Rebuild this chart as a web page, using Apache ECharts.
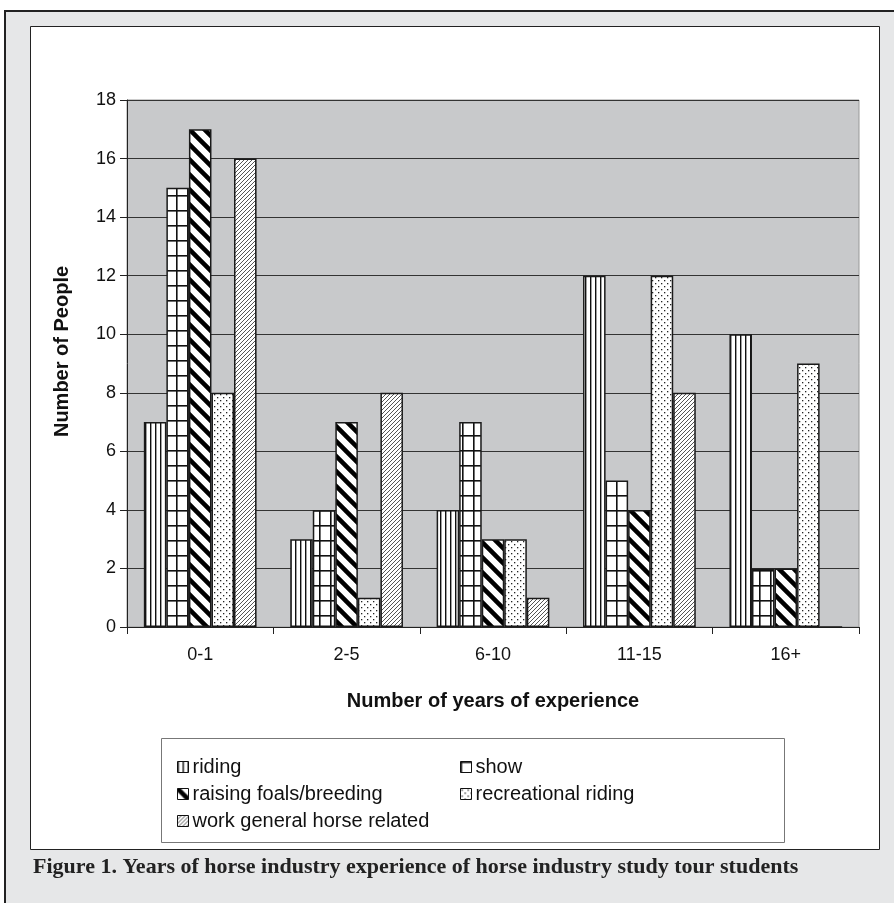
<!DOCTYPE html>
<html>
<head>
<meta charset="utf-8">
<script src="https://cdn.jsdelivr.net/npm/echarts@6/dist/echarts.min.js"></script>
<style>
  html, body { margin: 0; padding: 0; background: #fff; }
  #chart { width: 894px; height: 903px; }
</style>
</head>
<body>
<div id="chart"></div>
<script>
// years of experience groups
var categories = ['0-1', '2-5', '6-10', '11-15', '16+'];
var seriesNames = ['riding', 'show', 'raising foals/breeding', 'recreational riding', 'work general horse related'];
var riding = [7, 3, 4, 12, 10];
var show = [15, 4, 7, 5, 2];
var raising = [17, 7, 3, 4, 2];
var recreational = [8, 1, 3, 12, 9];
var work = [16, 8, 1, 8, 0];
var yTicks = [0, 2, 4, 6, 8, 10, 12, 14, 16, 18];

// small canvas tiles used as fill patterns
function tile(w, h, draw) {
    var c = document.createElement('canvas');
    c.width = w; c.height = h;
    var ctx = c.getContext('2d');
    ctx.fillStyle = '#fff';
    ctx.fillRect(0, 0, w, h);
    draw(ctx, w, h);
    return { image: c, repeat: 'repeat' };
}
var patVertical = tile(5, 4, function (ctx, w, h) {
    ctx.fillStyle = '#111';
    ctx.fillRect(0, 0, 1.4, h);
});
var patGrid = tile(11, 15, function (ctx, w, h) {
    ctx.fillStyle = '#111';
    ctx.fillRect(0, 0, 1.6, h);
    ctx.fillRect(0, 0, w, 1.6);
});
var patThick = tile(15, 15, function (ctx, w, h) {
    ctx.strokeStyle = '#000';
    ctx.lineWidth = 4.5;
    ctx.beginPath();
    ctx.moveTo(-2, -2); ctx.lineTo(w + 2, h + 2);
    ctx.moveTo(-2 - w, -2); ctx.lineTo(2, h + 2);
    ctx.moveTo(w - 2, -2); ctx.lineTo(2 * w + 2, h + 2);
    ctx.stroke();
});
var patDots = tile(6, 6, function (ctx) {
    ctx.fillStyle = '#222';
    ctx.fillRect(1, 1, 1.3, 1.3);
    ctx.fillRect(4, 4, 1.3, 1.3);
});
var patFine = tile(4, 4, function (ctx, w, h) {
    ctx.strokeStyle = '#555';
    ctx.lineWidth = 1;
    ctx.beginPath();
    ctx.moveTo(0, h); ctx.lineTo(w, 0);
    ctx.moveTo(-w, h); ctx.lineTo(0, 0);
    ctx.moveTo(w, h); ctx.lineTo(2 * w, 0);
    ctx.stroke();
});

var values = [riding, show, raising, recreational, work];
var patterns = [patVertical, patGrid, patThick, patDots, patFine];

var series = seriesNames.map(function (name, i) {
    return {
        name: name,
        type: 'bar',
        barGap: 0,
        barCategoryGap: '23%',
        data: values[i],
        itemStyle: { color: patterns[i], borderColor: '#1a1a1a', borderWidth: 1.5 },
        emphasis: { disabled: true },
        animation: false
    };
});

var legendText = { fontSize: 20, color: '#111', padding: [0, 0, 0, -1] };

var chart = echarts.init(document.getElementById('chart'));
var option = {
    animation: false,
    backgroundColor: '#fff',
    textStyle: { fontFamily: 'Liberation Sans, Arial, sans-serif' },
    graphic: [
        { type: 'rect', z: -10, silent: true, shape: { x: 5, y: 11, width: 900, height: 900 },
          style: { fill: '#e6e7e8', stroke: '#222', lineWidth: 2 } },
        { type: 'rect', z: -9, silent: true, shape: { x: 30.5, y: 26.5, width: 849, height: 823 },
          style: { fill: '#fff', stroke: '#222', lineWidth: 1 } },
        { type: 'rect', z: -8, silent: true, shape: { x: 161.5, y: 738.5, width: 623, height: 104 },
          style: { fill: '#fff', stroke: '#777', lineWidth: 1 } },
        { type: 'text', left: 33, top: 856,
          style: { text: 'Figure 1. Years of horse industry experience of horse industry study tour students',
                   font: 'bold 22px "Liberation Serif", "Times New Roman", serif', fill: '#222' } }
    ],
    legend: [
        { data: [seriesNames[0], seriesNames[2], seriesNames[4]], orient: 'vertical',
          left: 172, top: 752, itemWidth: 11, itemHeight: 11, itemGap: 7,
          icon: 'rect', selectedMode: false,
          itemStyle: { borderColor: '#111', borderWidth: 1 },
          textStyle: legendText },
        { data: [seriesNames[1], seriesNames[3]], orient: 'vertical',
          left: 455, top: 752, itemWidth: 11, itemHeight: 11, itemGap: 7,
          icon: 'rect', selectedMode: false,
          itemStyle: { borderColor: '#111', borderWidth: 1 },
          textStyle: legendText }
    ],
    grid: {
        left: 127, right: 35, top: 100, bottom: 276,
        show: true, backgroundColor: '#c8c9cb', borderColor: '#999', borderWidth: 1
    },
    xAxis: {
        type: 'category',
        data: categories,
        name: 'Number of years of experience',
        nameLocation: 'middle',
        nameGap: 64,
        nameTextStyle: { fontSize: 20, fontWeight: 'bold', color: '#111' },
        axisLine: { lineStyle: { color: '#222', width: 1 } },
        axisTick: { show: true, length: 7, lineStyle: { color: '#222' } },
        axisLabel: { fontSize: 18, color: '#111', margin: 19 }
    },
    yAxis: {
        type: 'value',
        min: yTicks[0],
        max: yTicks[yTicks.length - 1],
        interval: 2,
        name: 'Number of People',
        nameLocation: 'middle',
        nameGap: 55,
        nameRotate: 90,
        nameTextStyle: { fontSize: 20, fontWeight: 'bold', color: '#111', padding: [0, 0, 0, 24] },
        axisLine: { show: true, lineStyle: { color: '#222', width: 1 } },
        axisTick: { show: true, length: 7, lineStyle: { color: '#222' } },
        axisLabel: { fontSize: 18, color: '#111', margin: 11 },
        splitLine: { lineStyle: { color: '#333', width: 1 } }
    },
    series: series
};
chart.setOption(option);
</script>
</body>
</html>
